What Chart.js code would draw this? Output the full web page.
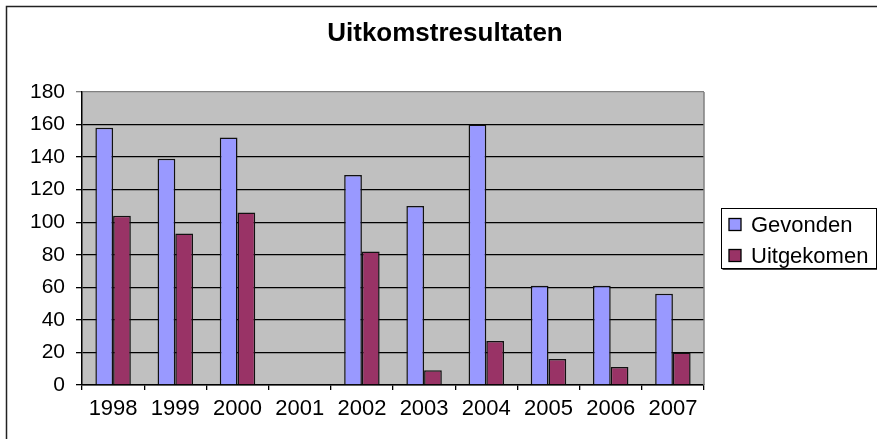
<!DOCTYPE html>
<html>
<head>
<meta charset="utf-8">
<script src="https://cdn.jsdelivr.net/npm/chart.js@4"></script>
<style>
html,body{margin:0;padding:0;background:#fff;}
#wrap{width:877px;height:439px;position:relative;}
</style>
</head>
<body>
<div id="wrap"><canvas id="c" width="877" height="439"></canvas></div>
<script>
const chartTitle = 'Uitkomstresultaten';
const years = ['1998','1999','2000','2001','2002','2003','2004','2005','2006','2007'];
const gevonden = [158, 139, 152, null, 129, 110, 160, 61, 61, 56];
const uitgekomen = [104, 93, 106, null, 82, 9, 27, 16, 11, 20];
const seriesNames = ['Gevonden', 'Uitgekomen'];
const seriesColors = ['#9999FF', '#993366'];

const FONT = "'Liberation Sans', Arial, sans-serif";

const decor = {
  id: 'decor',
  beforeDraw(chart) {
    const ctx = chart.ctx, a = chart.chartArea;
    ctx.save();
    ctx.fillStyle = '#fff';
    ctx.fillRect(0, 0, chart.width, chart.height);
    ctx.fillStyle = '#C0C0C0';
    ctx.fillRect(a.left, a.top, a.right - a.left, a.bottom - a.top);
    ctx.restore();
  },
  afterDraw(chart) {
    const ctx = chart.ctx, a = chart.chartArea;
    ctx.save();
    ctx.strokeStyle = '#808080';
    ctx.lineWidth = 1.5;
    ctx.beginPath();
    ctx.moveTo(a.right, a.top);
    ctx.lineTo(a.right, a.bottom);
    ctx.stroke();
    ctx.strokeStyle = '#222';
    ctx.lineWidth = 1.5;
    ctx.beginPath();
    ctx.moveTo(877, 6.5);
    ctx.lineTo(6.5, 6.5);
    ctx.lineTo(6.5, 439);
    ctx.stroke();
    ctx.fillStyle = '#000';
    ctx.font = 'bold 26px ' + FONT;
    ctx.textAlign = 'center';
    ctx.textBaseline = 'middle';
    ctx.fillText(chartTitle, 445, 34);
    const lx = 721, ly = 208, lw = 155, lh = 60;
    ctx.fillStyle = '#fff';
    ctx.fillRect(lx, ly, lw, lh);
    ctx.strokeStyle = '#000';
    ctx.lineWidth = 1;
    ctx.strokeRect(lx + 0.5, ly + 0.5, lw, lh);
    ctx.strokeStyle = '#444';
    ctx.beginPath();
    ctx.moveTo(lx + 1.5, ly + lh + 1.5);
    ctx.lineTo(lx + lw + 1.5, ly + lh + 1.5);
    ctx.lineTo(lx + lw + 1.5, ly + 1.5);
    ctx.stroke();
    ctx.font = '22px ' + FONT;
    ctx.textAlign = 'left';
    const rows = [224.5, 255.5];
    chart.data.datasets.forEach((ds, i) => {
      const cy = rows[i];
      ctx.fillStyle = ds.backgroundColor;
      ctx.fillRect(729, cy - 6, 12, 12);
      ctx.strokeStyle = '#000';
      ctx.lineWidth = 1.3;
      ctx.strokeRect(729, cy - 6, 12, 12);
      ctx.fillStyle = '#000';
      ctx.fillText(ds.label, 751, cy + 1);
    });
    ctx.restore();
  }
};

new Chart(document.getElementById('c'), {
  type: 'bar',
  data: {
    labels: years,
    datasets: [
      { label: seriesNames[0], data: gevonden, backgroundColor: seriesColors[0], borderColor: '#111', borderWidth: 1.5 },
      { label: seriesNames[1], data: uitgekomen, backgroundColor: seriesColors[1], borderColor: '#111', borderWidth: 1.5 }
    ]
  },
  options: {
    responsive: false,
    animation: false,
    devicePixelRatio: 1,
    categoryPercentage: 0.57,
    barPercentage: 1.0,
    layout: { padding: { left: 0, top: 92, right: 173, bottom: 0 } },
    plugins: {
      legend: { display: false },
      title: { display: false },
      tooltip: { enabled: false }
    },
    scales: {
      x: {
        grid: { offset: true, drawOnChartArea: false, drawTicks: true, tickLength: 5, color: '#000', lineWidth: 1.3 },
        border: { color: '#000', width: 1.5 },
        ticks: { color: '#000', font: { family: FONT, size: 22 }, padding: 6, maxRotation: 0, autoSkip: false },
        afterFit(s) { s.height = 54; }
      },
      y: {
        min: 0, max: 180,
        grid: { color: (c) => (c.tick && c.tick.value === 180 ? '#808080' : '#000'), lineWidth: 1.3, tickLength: 6 },
        border: { color: '#000', width: 1.5 },
        ticks: { stepSize: 20, color: '#000', font: { family: FONT, size: 21 }, padding: 11 },
        afterFit(s) { s.width = 82; }
      }
    }
  },
  plugins: [decor]
});
</script>
</body>
</html>
